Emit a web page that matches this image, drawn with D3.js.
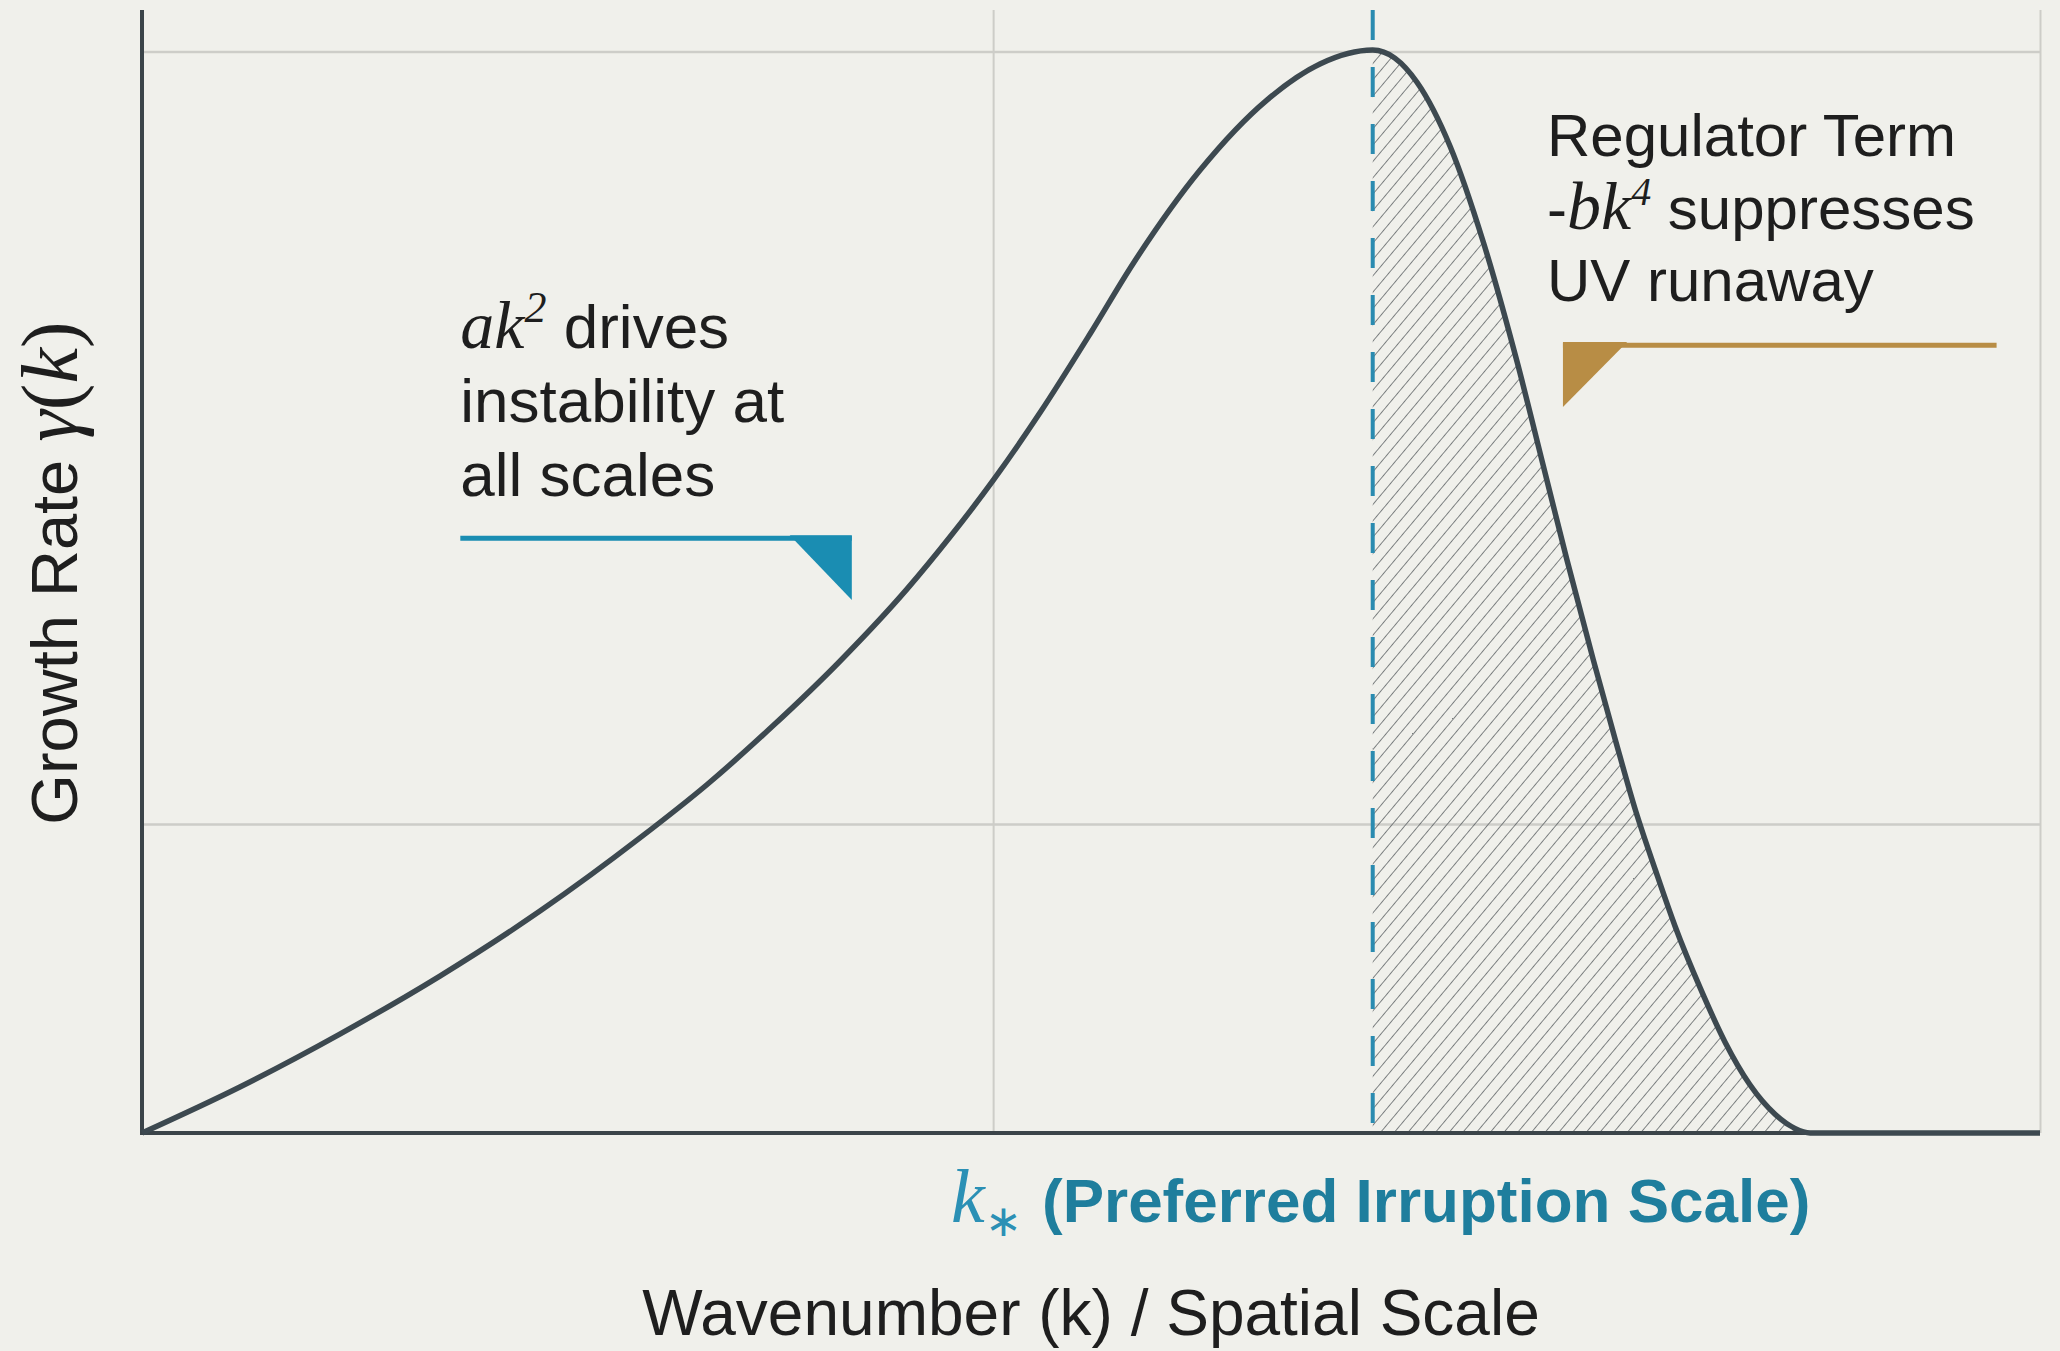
<!doctype html>
<html lang="en">
<head>
<meta charset="utf-8">
<script src="https://d3js.org/d3.v7.min.js"></script>
<style>
  body { margin: 0; padding: 0; background: #f0f0eb; }
  svg { display: block; }
  .sans { font-family: "Liberation Sans", Arial, Helvetica, sans-serif; }
  .math { font-family: "Liberation Serif", "Times New Roman", serif; font-style: italic; }
</style>
</head>
<body>
<svg id="chart"></svg>
<script>
// growth rate curve gamma(k)
var kValues     = [0, 0.115, 0.233, 0.350, 0.468, 0.585, 0.664, 0.741, 0.820, 0.899, 0.949, 1.000, 1.055, 1.114, 1.164, 1.243, 1.322, 1.384, 1.446,
                   1.472, 1.498, 1.537, 1.576, 1.616, 1.646, 1.674, 1.705, 1.731, 1.755, 1.778, 1.801, 1.831, 1.860, 1.889, 1.919, 1.942, 1.960, 2.23];
var gammaValues = [0, 0.149, 0.321, 0.508, 0.719, 0.955, 1.128, 1.317, 1.527, 1.761, 1.928, 2.112, 2.331, 2.587, 2.812, 3.116, 3.344, 3.460, 3.505,
                   3.479, 3.401, 3.193, 2.883, 2.492, 2.164, 1.857, 1.533, 1.273, 1.042, 0.852, 0.671, 0.468, 0.294, 0.157, 0.060, 0.015, 0, 0];

var kStar = 1.446;
var kEnd = 1.960;
var xGridTicks = [1, 2.23];
var yGridTicks = [1, 3.5];

var xTitle = "Wavenumber (k) / Spatial Scale";
var yTitle = "Growth Rate ";
var kStarLabel = "(Preferred Irruption Scale)";
var leftNote = ["drives", "instability at", "all scales"];
var rightNote = ["Regulator Term", "suppresses", "UV runaway"];

var width = 2060, height = 1351;
var yTop = 3.635;

var x = d3.scaleLinear().domain([0, 2.23]).range([142, 2040]);
var y = d3.scaleLinear().domain([0, 3.625]).range([1133, 13]);

var svg = d3.select("#chart").attr("width", width).attr("height", height);

svg.append("rect").attr("width", width).attr("height", height).attr("fill", "#f0f0eb");

var data = kValues.map(function (k, i) { return { k: k, g: gammaValues[i] }; });

// hatch pattern
var defs = svg.append("defs");
defs.append("pattern")
    .attr("id", "hatch")
    .attr("patternUnits", "userSpaceOnUse")
    .attr("width", 10.5).attr("height", 10.5)
    .attr("patternTransform", "rotate(40)")
  .append("line")
    .attr("x1", 0).attr("y1", 0).attr("x2", 0).attr("y2", 10.5)
    .attr("stroke", "#595e61").attr("stroke-width", 1.5);

// grid
svg.append("g")
    .attr("transform", "translate(" + x(0) + ",0)")
    .call(d3.axisLeft(y).tickValues(yGridTicks).tickSize(-(x(2.23) - x(0))).tickFormat(""))
    .call(function (g) { g.select(".domain").remove(); })
    .selectAll("line").attr("stroke", "#cdcdc8").attr("stroke-width", 2.5);

svg.append("g")
    .attr("transform", "translate(0," + y(0) + ")")
    .call(d3.axisBottom(x).tickValues(xGridTicks).tickSize(-(y(0) - y(yTop))).tickFormat(""))
    .call(function (g) { g.select(".domain").remove(); })
    .selectAll("line").attr("stroke", "#cdcdc8").attr("stroke-width", 2);

// hatched region past k*
var area = d3.area()
    .x(function (d) { return x(d.k); })
    .y0(y(0))
    .y1(function (d) { return y(d.g); })
    .curve(d3.curveMonotoneX);

svg.append("path")
    .datum(data.filter(function (d) { return d.k >= kStar && d.k <= kEnd; }))
    .attr("d", area)
    .attr("fill", "url(#hatch)");

// axes
svg.append("line")
    .attr("x1", x(0)).attr("x2", x(0)).attr("y1", y(yTop)).attr("y2", y(0) + 2)
    .attr("stroke", "#3b4449").attr("stroke-width", 4);
svg.append("line")
    .attr("x1", x(0)).attr("x2", x(2.23)).attr("y1", y(0)).attr("y2", y(0))
    .attr("stroke", "#3b4449").attr("stroke-width", 4);

// k* marker
svg.append("line")
    .attr("x1", x(kStar)).attr("x2", x(kStar)).attr("y1", y(yTop)).attr("y2", y(0))
    .attr("stroke", "#2a8bb0").attr("stroke-width", 4)
    .attr("stroke-dasharray", "30,27");

// curve
var line = d3.line()
    .x(function (d) { return x(d.k); })
    .y(function (d) { return y(d.g); })
    .curve(d3.curveMonotoneX);

svg.append("path")
    .datum(data)
    .attr("d", line)
    .attr("fill", "none")
    .attr("stroke", "#3d4950")
    .attr("stroke-width", 5.5)
    .attr("stroke-linejoin", "round");

// annotation flags
var blue = "#1a8db2", gold = "#b88d45";

svg.append("line")
    .attr("x1", x(0.374)).attr("x2", x(0.834)).attr("y1", y(1.925)).attr("y2", y(1.925))
    .attr("stroke", blue).attr("stroke-width", 5);
svg.append("path")
    .attr("d", "M" + x(0.761) + "," + y(1.935) + "L" + x(0.834) + "," + y(1.935) + "L" + x(0.834) + "," + y(1.725) + "Z")
    .attr("fill", blue);

svg.append("line")
    .attr("x1", x(1.6695)).attr("x2", x(2.179)).attr("y1", y(2.55)).attr("y2", y(2.55))
    .attr("stroke", gold).attr("stroke-width", 5);
svg.append("path")
    .attr("d", "M" + x(1.6695) + "," + y(2.56) + "L" + x(1.745) + "," + y(2.56) + "L" + x(1.6695) + "," + y(2.35) + "Z")
    .attr("fill", gold);

// left note
var ln = svg.append("text").attr("class", "sans").attr("font-size", 62).attr("fill", "#1e1e1e");
var t1 = ln.append("tspan").attr("x", x(0.374)).attr("y", 348);
t1.append("tspan").attr("class", "math").attr("font-size", 68).text("ak");
t1.append("tspan").attr("class", "math").attr("font-style", "normal").attr("font-size", 44).attr("dy", -26).text("2");
t1.append("tspan").attr("dy", 26).text(" " + leftNote[0]);
ln.append("tspan").attr("x", x(0.374)).attr("y", 422).text(leftNote[1]);
ln.append("tspan").attr("x", x(0.374)).attr("y", 496).text(leftNote[2]);

// right note
var rn = svg.append("text").attr("class", "sans").attr("font-size", 60).attr("fill", "#1e1e1e");
rn.append("tspan").attr("x", 1547).attr("y", 156).text(rightNote[0]);
var t2 = rn.append("tspan").attr("x", 1547).attr("y", 229);
t2.append("tspan").text("-");
t2.append("tspan").attr("class", "math").attr("font-size", 68).text("bk");
t2.append("tspan").attr("class", "math").attr("font-style", "normal").attr("font-size", 40).attr("dy", -24).text("4");
t2.append("tspan").attr("dy", 24).text(" " + rightNote[1]);
rn.append("tspan").attr("x", 1547).attr("y", 301).text(rightNote[2]);

// k* label
var kl = svg.append("text").attr("x", 951).attr("y", 1222).attr("font-size", 62);
kl.append("tspan").attr("class", "math").attr("font-size", 76).attr("fill", "#2b90b5").text("k");
kl.append("tspan").attr("class", "sans").attr("font-size", 44).attr("fill", "#2b90b5").attr("dy", 14).text("\u2217");
kl.append("tspan").attr("class", "sans").attr("font-weight", "bold").attr("fill", "#1f7e9d").attr("dy", -14).attr("x", 1042).text(kStarLabel);

// axis titles
svg.append("text")
    .attr("class", "sans")
    .attr("x", (x(0) + x(2.23)) / 2).attr("y", 1335)
    .attr("text-anchor", "middle")
    .attr("font-size", 64).attr("fill", "#1e1e1e")
    .text(xTitle);

var yt = svg.append("text")
    .attr("class", "sans")
    .attr("transform", "translate(77," + ((y(3.625) + y(0)) / 2) + ") rotate(-90)")
    .attr("text-anchor", "middle")
    .attr("font-size", 65).attr("fill", "#1e1e1e");
yt.append("tspan").text(yTitle);
yt.append("tspan").attr("class", "math").attr("font-size", 80).text("\u03b3");
yt.append("tspan").attr("font-family", "Liberation Serif, serif").attr("font-size", 80).text("(");
yt.append("tspan").attr("class", "math").attr("font-size", 80).text("k");
yt.append("tspan").attr("font-family", "Liberation Serif, serif").attr("font-size", 80).text(")");
</script>
</body>
</html>
